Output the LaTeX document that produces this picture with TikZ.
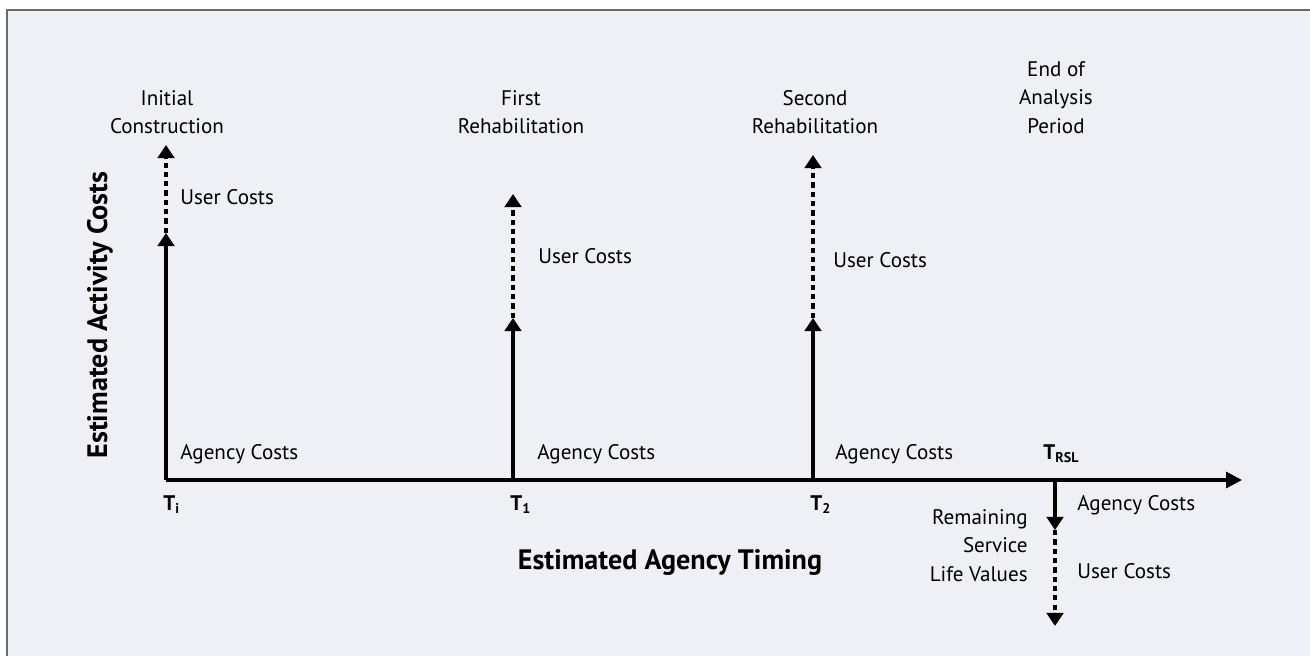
\documentclass[tikz,border=0pt]{standalone}
\usepackage{fontspec}
\setmainfont{PT Sans}
\usetikzlibrary{arrows.meta}
\definecolor{panelbg}{HTML}{EFF0F5}
\definecolor{framegray}{HTML}{6B6B6B}

\begin{document}
\begin{tikzpicture}[x=0.02cm, y=-0.02cm,
  cost/.style={line width=1.8pt, -{Triangle[width=9.5pt,length=7.5pt]}},
  usercost/.style={cost, dash pattern=on 3pt off 2.3pt},
  lbl/.style={inner sep=0pt, font=\fontsize{12}{16.2}\selectfont},
  tlbl/.style={inner sep=0pt, font=\fontsize{12}{16.2}\selectfont\bfseries},
  axlbl/.style={inner sep=0pt, font=\fontsize{16}{19}\selectfont\bfseries}]
\useasboundingbox (0,0) rectangle (1310,656);
\fill[panelbg] (7,10) rectangle (1310,656);
\draw[framegray, line width=1.3pt] (7,656) -- (7,10) -- (1310,10);

% time points and cost levels
\coordinate (ti) at (166,480);
\coordinate (tiA) at (166,233);
\coordinate (tiU) at (166,145);
\coordinate (t1) at (513,480);
\coordinate (t1A) at (513,318);
\coordinate (t1U) at (513,194);
\coordinate (t2) at (813,480);
\coordinate (t2A) at (813,318);
\coordinate (t2U) at (813,155);
\coordinate (trsl) at (1055,480);
\coordinate (trslA) at (1055,530);
\coordinate (trslU) at (1055,626);
\coordinate (axend) at (1242,480);

\draw[line width=1.8pt, -{Triangle[width=9pt,length=9pt]}] (ti) -- (axend); %time axis

\draw[cost] (ti) -- (tiA); \draw[usercost] (tiA) -- (tiU); %initial construction
\draw[cost] (t1) -- (t1A); \draw[usercost] (t1A) -- (t1U); %first rehabilitation
\draw[cost] (t2) -- (t2A); \draw[usercost] (t2A) -- (t2U); %second rehabilitation
\draw[cost] (trsl) -- (trslA); \draw[usercost] (trslA) -- (trslU); %remaining service life

\node[lbl, align=center, anchor=north] (initial) at (167,90) {Initial\\Construction};
\node[lbl, align=center, anchor=north] (first) at (521,90) {First\\Rehabilitation};
\node[lbl, align=center, anchor=north] (second) at (815,90) {Second\\Rehabilitation};
\node[lbl, align=center, anchor=north] (endperiod) at (1056,61) {End of\\Analysis\\Period};
\node[lbl, align=right, anchor=north east] (remaining) at (1028,509) {Remaining\\Service\\Life Values};

\node[lbl, anchor=base west] (tiuser) at (180,204) {User Costs};
\node[lbl, anchor=base west] (t1user) at (538,263) {User Costs};
\node[lbl, anchor=base west] (t2user) at (833,267) {User Costs};
\node[lbl, anchor=base west] (trsluser) at (1077,578) {User Costs};
\node[lbl, anchor=base west] (tiagency) at (180,459) {Agency Costs};
\node[lbl, anchor=base west] (t1agency) at (537,459) {Agency Costs};
\node[lbl, anchor=base west] (t2agency) at (835,459) {Agency Costs};
\node[lbl, anchor=base west] (trslagency) at (1077,510) {Agency Costs};

\node[tlbl, anchor=base west] (tilbl) at (163,510) {T\textsubscript{i}};
\node[tlbl, anchor=base west] (t1lbl) at (510,510) {T\textsubscript{1}};
\node[tlbl, anchor=base west] (t2lbl) at (810,510) {T\textsubscript{2}};
\node[tlbl, anchor=base west] (trsllbl) at (1043,459) {T\textsubscript{RSL}};

\node[axlbl] (timing) at (670,562) {Estimated Agency Timing};
\node[axlbl, rotate=90] (activity) at (100,315) {Estimated Activity Costs};
\end{tikzpicture}
\end{document}
